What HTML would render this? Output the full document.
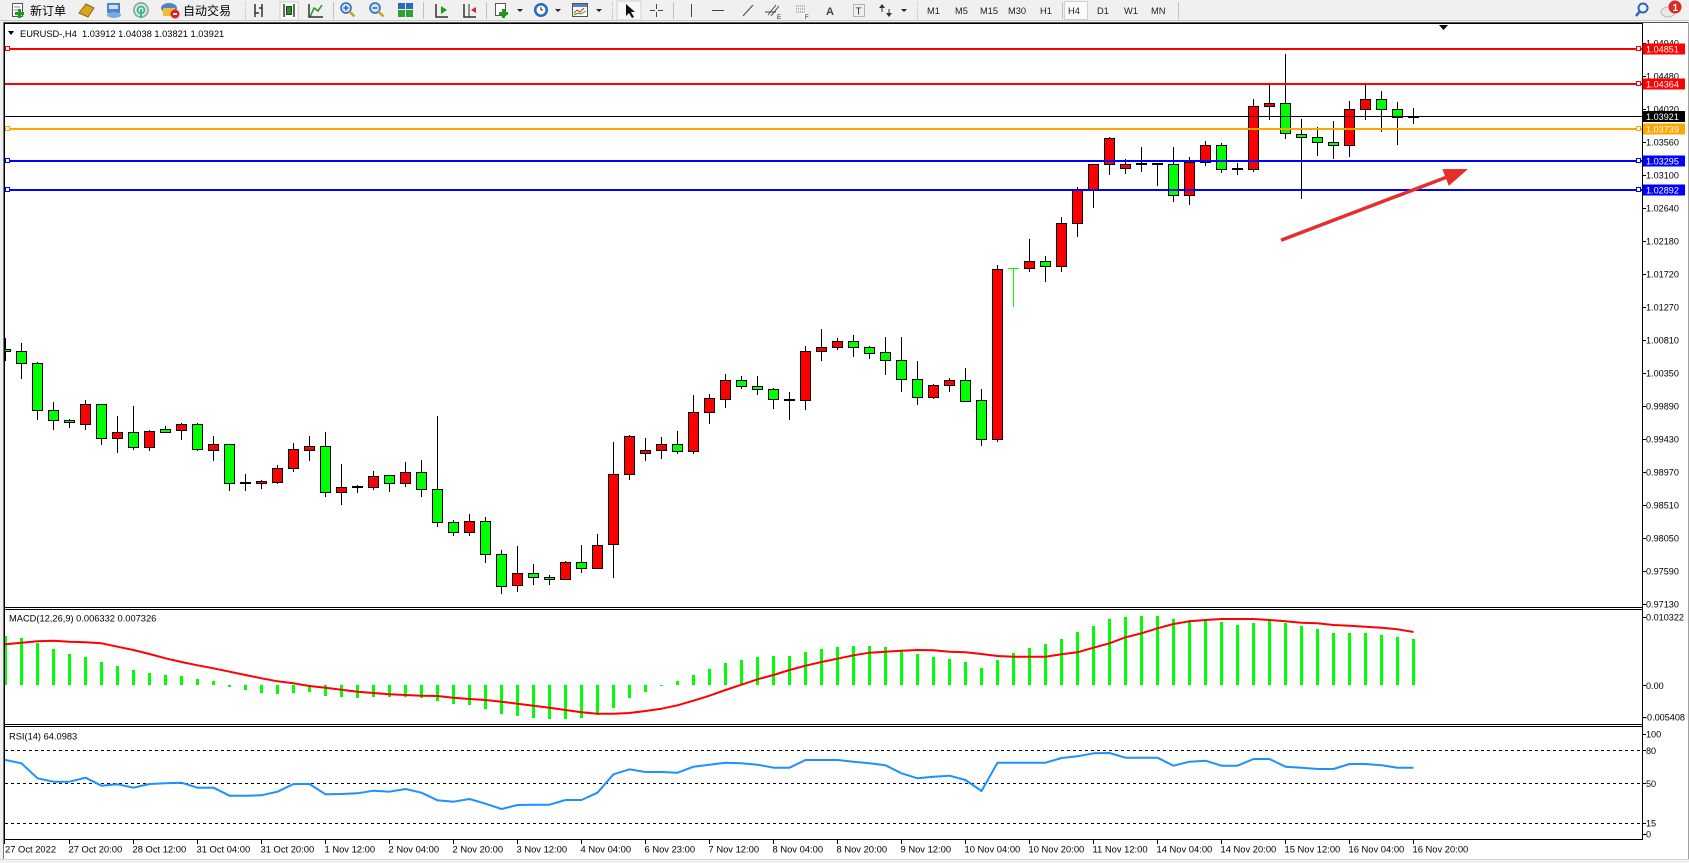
<!DOCTYPE html>
<html><head><meta charset="utf-8"><title>EURUSD H4</title>
<style>
html,body{margin:0;padding:0;background:#fff;}
body{width:1689px;height:863px;overflow:hidden;}
svg{display:block;}
text{font-family:"Liberation Sans","Noto Sans CJK SC",sans-serif;}
</style></head>
<body>
<svg width="1689" height="863" viewBox="0 0 1689 863" xmlns="http://www.w3.org/2000/svg">
<defs>
<clipPath id="cm"><rect x="5" y="24" width="1637" height="583"/></clipPath>
<clipPath id="cd"><rect x="5" y="610" width="1637" height="114"/></clipPath>
<clipPath id="cr"><rect x="5" y="727" width="1637" height="112"/></clipPath>
</defs>
<!-- window background -->
<rect x="0" y="0" width="1689" height="863" fill="#f0f0f0"/>
<rect x="3" y="22" width="1685" height="838" fill="#fff"/>
<!-- toolbar -->
<rect x="0" y="0" width="1689" height="21" fill="#f0f0f0"/>
<line x1="0" y1="20.5" x2="1689" y2="20.5" stroke="#c8c8c8"/>
<g font-size="12" fill="#000">
<text x="30" y="15" font-family="'Liberation Sans','Noto Sans CJK SC',sans-serif">新订单</text>
<text x="183" y="15" font-family="'Liberation Sans','Noto Sans CJK SC',sans-serif">自动交易</text>
</g>
<!-- toolbar icons -->
<g>
<rect x="12.5" y="3.5" width="10" height="13" fill="#fff" stroke="#555"/>
<line x1="14" y1="7" x2="20" y2="7" stroke="#888"/><line x1="14" y1="10" x2="20" y2="10" stroke="#888"/>
<rect x="15" y="12" width="9" height="3" fill="#1a9e1a"/><rect x="18" y="9" width="3" height="9" fill="#1a9e1a"/>
<polygon points="79,13 86,4 94,8 88,17" fill="#d9a520" stroke="#8a6212"/>
<rect x="107" y="3" width="13" height="10" fill="#4a86c8"/><rect x="109" y="5" width="9" height="4" fill="#cfe3f7"/><ellipse cx="114" cy="15" rx="7" ry="3" fill="#7aa9dd"/>
<circle cx="141" cy="10" r="7" fill="none" stroke="#9aa" stroke-width="2"/><circle cx="141" cy="10" r="3.5" fill="none" stroke="#3b8" stroke-width="2"/><rect x="140" y="9" width="2" height="9" fill="#3b8"/>
<ellipse cx="169" cy="8" rx="8" ry="5" fill="#4a86c8"/><rect x="163" y="8" width="12" height="8" fill="#f0c030"/><circle cx="175" cy="14" r="4.5" fill="#e02020"/><rect x="173" y="13" width="4" height="2" fill="#fff"/>
</g>
<g stroke="#b8b8b8" stroke-dasharray="1,1"><line x1="245.5" y1="2" x2="245.5" y2="19"/><line x1="612.5" y1="2" x2="612.5" y2="19"/><line x1="917.5" y1="2" x2="917.5" y2="19"/></g>
<g stroke="#c0c0c0"><line x1="333.5" y1="2" x2="333.5" y2="19"/><line x1="423.5" y1="2" x2="423.5" y2="19"/><line x1="486.5" y1="2" x2="486.5" y2="19"/><line x1="673.5" y1="2" x2="673.5" y2="19"/><line x1="1062.5" y1="2" x2="1062.5" y2="19"/><line x1="1178.5" y1="2" x2="1178.5" y2="19"/></g>
<g stroke-width="1.5" fill="none">
<path d="M255 4V17M255 13h4M259 8h3M262 4V17" stroke="#333"/>
<rect x="280" y="2" width="18" height="18" fill="#fff" stroke="#ccc" stroke-width="1"/>
<path d="M284 4V17M294 4V17" stroke="#333"/><rect x="286.5" y="6.5" width="5" height="8" fill="#1a9e1a" stroke="#333" stroke-width="1"/>
<path d="M310 17l4-9 4 3 4-6" stroke="#1a9e1a"/><path d="M309 4V17h14" stroke="#333"/>
</g>
<g>
<circle cx="346" cy="8" r="5" fill="#cfe3f7" stroke="#2a6ab8" stroke-width="1.5"/><path d="M349.5 11.5l5 5" stroke="#c8a020" stroke-width="2.5"/><path d="M343.5 8h5M346 5.5v5" stroke="#2a6ab8" stroke-width="1.5"/>
<circle cx="375" cy="8" r="5" fill="#cfe3f7" stroke="#2a6ab8" stroke-width="1.5"/><path d="M378.5 11.5l5 5" stroke="#c8a020" stroke-width="2.5"/><path d="M372.5 8h5" stroke="#2a6ab8" stroke-width="1.5"/>
<rect x="398" y="3" width="7" height="6" fill="#2a6ab8"/><rect x="406" y="3" width="7" height="6" fill="#2a6ab8"/><rect x="398" y="10" width="7" height="7" fill="#30a030"/><rect x="406" y="10" width="7" height="7" fill="#30a030"/>
<path d="M436 4V17h12" stroke="#333" stroke-width="1.5" fill="none"/><polygon points="441,6 447,10 441,14" fill="#1a9e1a"/>
<path d="M464 4V17h12" stroke="#333" stroke-width="1.5" fill="none"/><path d="M469 4V17" stroke="#333"/><polygon points="476,7 471,10 476,13" fill="#e02020"/>
<rect x="495.5" y="3.5" width="10" height="12" fill="#fff" stroke="#555"/><rect x="499" y="12" width="9" height="3" fill="#1a9e1a"/><rect x="502" y="9" width="3" height="9" fill="#1a9e1a"/>
<polygon points="517,9 523,9 520,12" fill="#222"/>
<circle cx="541" cy="10" r="7" fill="#2a6ab8"/><circle cx="541" cy="10" r="4.5" fill="#fff"/><path d="M541 7v3h2" stroke="#222" fill="none"/>
<polygon points="555,9 561,9 558,12" fill="#222"/>
<rect x="572.5" y="3.5" width="15" height="13" fill="#fff" stroke="#555"/><rect x="573" y="4" width="14" height="3" fill="#4a86c8"/><path d="M574 13l3-3 3 2 4-4" stroke="#e02020" fill="none"/><path d="M574 15l4-2 3 1 5-3" stroke="#1a9e1a" fill="none"/>
<polygon points="596,9 602,9 599,12" fill="#222"/>
<rect x="617" y="1" width="24" height="19" fill="#f8f8f8" stroke="#d0d0d0"/>
<polygon points="626,4 626,16 629,13 632,18 634,17 631,12 635,12" fill="#111"/>
<path d="M656.5 4v5M656.5 12v5M650 10.5h5M658 10.5h5" stroke="#444"/>
<path d="M691.5 4v13" stroke="#444"/>
<path d="M712 10.5h12" stroke="#444"/>
<path d="M743 16l10-11" stroke="#444"/>
<path d="M768 15l8-10M771 16l8-10M765 12h11" stroke="#444"/><text x="777" y="19" font-size="6" fill="#222">E</text>
<path d="M796 6h10M796 9h10M796 12h10" stroke="#777" stroke-dasharray="1,1"/><text x="805" y="19" font-size="6" fill="#222">F</text>
<text x="826" y="15" font-size="11" font-weight="bold" fill="#444">A</text>
<rect x="853.5" y="4.5" width="11" height="12" fill="none" stroke="#777" stroke-dasharray="1,1"/><text x="855.5" y="14.5" font-size="10" fill="#333">T</text>
<path d="M882 4l-3 4h6zM889 17l-3-4h6z" fill="#333"/><path d="M882 8v4M889 9v4" stroke="#333"/>
<polygon points="901,9 907,9 904,12" fill="#222"/>
</g>
<g font-size="9.3" fill="#222">
<text x="927" y="14">M1</text><text x="955" y="14">M5</text><text x="980" y="14">M15</text><text x="1008" y="14">M30</text><text x="1040" y="14">H1</text>
<rect x="1064.5" y="1.5" width="23" height="18" fill="#fafafa" stroke="#d0d0d0"/>
<text x="1068" y="14">H4</text><text x="1097" y="14">D1</text><text x="1124" y="14">W1</text><text x="1151" y="14">MN</text>
</g>
<circle cx="1643" cy="8" r="4.5" fill="none" stroke="#2a6ab8" stroke-width="2"/><path d="M1640 11l-4 5" stroke="#2a6ab8" stroke-width="2.5"/>
<ellipse cx="1668" cy="12" rx="7" ry="5" fill="#e8e8e8" stroke="#bbb"/>
<circle cx="1675" cy="7" r="6.5" fill="#e02a20"/><text x="1672.5" y="11" font-size="10" fill="#fff" font-weight="bold">1</text>

<!-- window frame -->
<line x1="3" y1="22.5" x2="1688" y2="22.5" stroke="#555"/>
<line x1="3.5" y1="22" x2="3.5" y2="860" stroke="#777"/>
<line x1="1688.5" y1="22" x2="1688.5" y2="860" stroke="#a0a0a0"/>
<rect x="0" y="860" width="1689" height="3" fill="#f0f0f0"/>
<line x1="0" y1="859.5" x2="1689" y2="859.5" stroke="#d8d8d8"/>

<!-- pane borders -->
<g stroke="#000" stroke-width="1" shape-rendering="crispEdges" fill="none">
<line x1="4" y1="23.5" x2="1643" y2="23.5"/>
<line x1="4" y1="607.5" x2="1643" y2="607.5"/>
<line x1="4" y1="609.5" x2="1643" y2="609.5"/>
<line x1="4" y1="724.5" x2="1643" y2="724.5"/>
<line x1="4" y1="726.5" x2="1643" y2="726.5"/>
<line x1="4" y1="839.5" x2="1643" y2="839.5"/>
<line x1="4.5" y1="23" x2="4.5" y2="840"/>
<line x1="1642.5" y1="23" x2="1642.5" y2="840"/>
</g>

<!-- main chart -->
<g clip-path="url(#cm)" shape-rendering="crispEdges">
<path stroke="#000" stroke-width="1" fill="none" d="M5.5 338V361M21.5 343V379M37.5 362V420M53.5 402V430M69.5 419V428M85.5 400V430M101.5 404V445M117.5 416V453M133.5 406V450M149.5 430V451M165.5 426V433M181.5 423V440M197.5 423V451M213.5 436V461M229.5 444V491M245.5 474V491M261.5 480V489M277.5 465V484M293.5 443V472M309.5 436V461M325.5 432V497M341.5 464V505M357.5 485V493M373.5 471V490M389.5 475V492M405.5 462V487M421.5 460V497M437.5 416V527M453.5 520V536M469.5 514V536M485.5 517V563M501.5 550V594M517.5 546V592M533.5 564V585M549.5 575V585M565.5 561V580M581.5 545V573M597.5 534V568M613.5 442V578M629.5 435V480M645.5 438V461M661.5 437V459M677.5 431V454M693.5 395V454M709.5 394V424M725.5 374V408M741.5 376V389M757.5 376V395M773.5 388V409M789.5 392V420M805.5 346V410M821.5 329V361M837.5 338V350M853.5 335V357M869.5 346V359M885.5 337V375M901.5 337V392M917.5 361V405M933.5 384V399M949.5 378V392M965.5 368V401M981.5 389V446M997.5 265V442M1029.5 239V272M1045.5 256V282M1061.5 217V272M1077.5 187V237M1093.5 164V208M1109.5 137V175M1125.5 159V174M1141.5 147V172M1157.5 164V186M1173.5 147V202M1189.5 157V205M1205.5 141V166M1221.5 143V173M1237.5 163V175M1253.5 99V172M1269.5 84V120M1285.5 54V139M1301.5 119V199M1317.5 127V156M1333.5 121V159M1349.5 101V157M1365.5 84V120M1381.5 91V132M1397.5 102V145M1413.5 108V124"/>
<path stroke="#000" stroke-width="2" fill="none" d="M240 483h11M352 487h11M784 400h11M1136 164h11M1152 164h11M1232 169h11M1408 117h11"/>
<path stroke="#00ff00" stroke-width="1" fill="none" d="M1008 268.5h11M1013.5 268V307"/>
<g fill="#00ff00" stroke="#000" stroke-width="1">
<rect x="0.5" y="349.5" width="10" height="2"/>
<rect x="16.5" y="351.5" width="10" height="12"/>
<rect x="32.5" y="363.5" width="10" height="47"/>
<rect x="48.5" y="410.5" width="10" height="10"/>
<rect x="64.5" y="420.5" width="10" height="2"/>
<rect x="96.5" y="404.5" width="10" height="34"/>
<rect x="128.5" y="432.5" width="10" height="15"/>
<rect x="160.5" y="429.5" width="10" height="3"/>
<rect x="192.5" y="424.5" width="10" height="25"/>
<rect x="224.5" y="444.5" width="10" height="39"/>
<rect x="320.5" y="446.5" width="10" height="46"/>
<rect x="384.5" y="475.5" width="10" height="8"/>
<rect x="416.5" y="472.5" width="10" height="17"/>
<rect x="432.5" y="489.5" width="10" height="33"/>
<rect x="448.5" y="522.5" width="10" height="10"/>
<rect x="480.5" y="521.5" width="10" height="33"/>
<rect x="496.5" y="554.5" width="10" height="32"/>
<rect x="528.5" y="573.5" width="10" height="4"/>
<rect x="544.5" y="577.5" width="10" height="2"/>
<rect x="576.5" y="562.5" width="10" height="6"/>
<rect x="672.5" y="444.5" width="10" height="7"/>
<rect x="736.5" y="380.5" width="10" height="6"/>
<rect x="752.5" y="386.5" width="10" height="3"/>
<rect x="768.5" y="389.5" width="10" height="10"/>
<rect x="848.5" y="341.5" width="10" height="6"/>
<rect x="864.5" y="347.5" width="10" height="6"/>
<rect x="880.5" y="352.5" width="10" height="8"/>
<rect x="896.5" y="360.5" width="10" height="19"/>
<rect x="912.5" y="379.5" width="10" height="18"/>
<rect x="960.5" y="380.5" width="10" height="21"/>
<rect x="976.5" y="400.5" width="10" height="39"/>
<rect x="1040.5" y="261.5" width="10" height="5"/>
<rect x="1168.5" y="164.5" width="10" height="31"/>
<rect x="1216.5" y="145.5" width="10" height="24"/>
<rect x="1280.5" y="103.5" width="10" height="30"/>
<rect x="1296.5" y="134.5" width="10" height="3"/>
<rect x="1312.5" y="137.5" width="10" height="5"/>
<rect x="1328.5" y="142.5" width="10" height="3"/>
<rect x="1376.5" y="99.5" width="10" height="10"/>
<rect x="1392.5" y="109.5" width="10" height="8"/>
</g>
<g fill="#ff0000" stroke="#000" stroke-width="1">
<rect x="80.5" y="404.5" width="10" height="20"/>
<rect x="112.5" y="432.5" width="10" height="6"/>
<rect x="144.5" y="431.5" width="10" height="16"/>
<rect x="176.5" y="424.5" width="10" height="6"/>
<rect x="208.5" y="444.5" width="10" height="6"/>
<rect x="256.5" y="481.5" width="10" height="2"/>
<rect x="272.5" y="468.5" width="10" height="14"/>
<rect x="288.5" y="449.5" width="10" height="19"/>
<rect x="304.5" y="446.5" width="10" height="4"/>
<rect x="336.5" y="487.5" width="10" height="5"/>
<rect x="368.5" y="476.5" width="10" height="11"/>
<rect x="400.5" y="472.5" width="10" height="11"/>
<rect x="464.5" y="521.5" width="10" height="11"/>
<rect x="512.5" y="573.5" width="10" height="12"/>
<rect x="560.5" y="562.5" width="10" height="17"/>
<rect x="592.5" y="545.5" width="10" height="23"/>
<rect x="608.5" y="474.5" width="10" height="70"/>
<rect x="624.5" y="436.5" width="10" height="38"/>
<rect x="640.5" y="450.5" width="10" height="3"/>
<rect x="656.5" y="444.5" width="10" height="6"/>
<rect x="688.5" y="412.5" width="10" height="39"/>
<rect x="704.5" y="398.5" width="10" height="14"/>
<rect x="720.5" y="380.5" width="10" height="19"/>
<rect x="800.5" y="351.5" width="10" height="49"/>
<rect x="816.5" y="347.5" width="10" height="4"/>
<rect x="832.5" y="341.5" width="10" height="6"/>
<rect x="928.5" y="385.5" width="10" height="12"/>
<rect x="944.5" y="380.5" width="10" height="5"/>
<rect x="992.5" y="269.5" width="10" height="170"/>
<rect x="1024.5" y="261.5" width="10" height="7"/>
<rect x="1056.5" y="223.5" width="10" height="43"/>
<rect x="1072.5" y="190.5" width="10" height="33"/>
<rect x="1088.5" y="164.5" width="10" height="26"/>
<rect x="1104.5" y="138.5" width="10" height="26"/>
<rect x="1120.5" y="164.5" width="10" height="4"/>
<rect x="1184.5" y="162.5" width="10" height="33"/>
<rect x="1200.5" y="145.5" width="10" height="17"/>
<rect x="1248.5" y="106.5" width="10" height="63"/>
<rect x="1264.5" y="103.5" width="10" height="3"/>
<rect x="1344.5" y="109.5" width="10" height="36"/>
<rect x="1360.5" y="99.5" width="10" height="10"/>
</g>
<!-- horizontal objects -->
<rect x="5" y="48" width="1637" height="2" fill="#ff0000"/>
<rect x="5" y="83" width="1637" height="2" fill="#ff0000"/>
<rect x="5" y="116" width="1637" height="1" fill="#000"/>
<rect x="5" y="128" width="1637" height="2" fill="#ffa500"/>
<rect x="5" y="160" width="1637" height="2" fill="#0000ff"/>
<rect x="5" y="189" width="1637" height="2" fill="#0000ff"/>
<g fill="#fff" stroke-width="1.2">
<rect x="5.5" y="46.5" width="4" height="4" stroke="#ff0000"/><rect x="1636.5" y="46.5" width="4" height="4" stroke="#ff0000"/>
<rect x="1636.5" y="81.5" width="4" height="4" stroke="#ff0000"/>
<rect x="5.5" y="126.5" width="4" height="4" stroke="#ffa500"/><rect x="1636.5" y="126.5" width="4" height="4" stroke="#ffa500"/>
<rect x="5.5" y="158.5" width="4" height="4" stroke="#0000ff"/><rect x="1636.5" y="158.5" width="4" height="4" stroke="#0000ff"/>
<rect x="5.5" y="187.5" width="4" height="4" stroke="#0000ff"/><rect x="1636.5" y="187.5" width="4" height="4" stroke="#0000ff"/>
</g>
</g>
<!-- arrow -->
<g shape-rendering="geometricPrecision">
<line x1="1281" y1="240.3" x2="1447" y2="177" stroke="#e62e2e" stroke-width="3.5"/>
<polygon points="1468,169 1448.8,185.9 1442.4,169.1" fill="#e62e2e"/>
</g>
<polygon points="1439,25 1448,25 1443.5,30" fill="#000"/>
<!-- header text -->
<polygon points="8,31 14,31 11,35" fill="#000"/>
<text x="20" y="37" font-size="9.3" fill="#000" xml:space="preserve">EURUSD-,H4  1.03912 1.04038 1.03821 1.03921</text>

<!-- price axis -->
<g font-size="9.1" fill="#000">
<text x="1646" y="607.3">0.97130</text>
<text x="1646" y="574.3">0.97590</text>
<text x="1646" y="541.3">0.98050</text>
<text x="1646" y="508.3">0.98510</text>
<text x="1646" y="475.3">0.98970</text>
<text x="1646" y="442.3">0.99430</text>
<text x="1646" y="409.3">0.99890</text>
<text x="1646" y="376.3">1.00350</text>
<text x="1646" y="343.3">1.00810</text>
<text x="1646" y="310.3">1.01270</text>
<text x="1646" y="277.3">1.01720</text>
<text x="1646" y="244.3">1.02180</text>
<text x="1646" y="211.3">1.02640</text>
<text x="1646" y="178.3">1.03100</text>
<text x="1646" y="145.3">1.03560</text>
<text x="1646" y="112.3">1.04020</text>
<text x="1646" y="79.3">1.04480</text>
<text x="1646" y="46.3">1.04940</text>
</g>
<path stroke="#000" shape-rendering="crispEdges" d="M1643 604.5h3M1643 571.5h3M1643 538.5h3M1643 505.5h3M1643 472.5h3M1643 439.5h3M1643 406.5h3M1643 373.5h3M1643 340.5h3M1643 307.5h3M1643 274.5h3M1643 241.5h3M1643 208.5h3M1643 175.5h3M1643 142.5h3M1643 109.5h3M1643 76.5h3M1643 43.5h3M1643 617.5h3M1643 685.5h3M1643 717.5h3M1643 734.5h3M1643 750.5h3M1643 783.5h3M1643 823.5h3M1643 834.5h3"/>
<g font-size="9.1" fill="#fff" shape-rendering="crispEdges">
<rect x="1643" y="43.5" width="42" height="11" fill="#ff0000"/><text x="1646" y="52.5">1.04851</text>
<rect x="1643" y="78.5" width="42" height="11" fill="#ff0000"/><text x="1646" y="87.3">1.04364</text>
<rect x="1643" y="111" width="42" height="11" fill="#000"/><text x="1646" y="120">1.03921</text>
<rect x="1643" y="123.5" width="42" height="11" fill="#ffa500"/><text x="1646" y="132.3">1.03739</text>
<rect x="1643" y="155.5" width="42" height="11" fill="#0000ff"/><text x="1646" y="164.3">1.03295</text>
<rect x="1643" y="184.5" width="42" height="11" fill="#0000ff"/><text x="1646" y="193.3">1.02892</text>
</g>

<!-- MACD -->
<g clip-path="url(#cd)">
<g fill="#00ff00" shape-rendering="crispEdges">
<rect x="4" y="636" width="3" height="49"/><rect x="20" y="638" width="3" height="47"/><rect x="36" y="643" width="3" height="42"/><rect x="52" y="649" width="3" height="36"/><rect x="68" y="654" width="3" height="31"/><rect x="84" y="657" width="3" height="28"/><rect x="100" y="662" width="3" height="23"/><rect x="116" y="666" width="3" height="19"/><rect x="132" y="670" width="3" height="15"/><rect x="148" y="673" width="3" height="12"/><rect x="164" y="675" width="3" height="10"/><rect x="180" y="676" width="3" height="9"/><rect x="196" y="679" width="3" height="6"/><rect x="212" y="681" width="3" height="4"/>
<rect x="228" y="685" width="3" height="2"/><rect x="244" y="685" width="3" height="5"/><rect x="260" y="685" width="3" height="8"/><rect x="276" y="685" width="3" height="9"/><rect x="292" y="685" width="3" height="8"/><rect x="308" y="685" width="3" height="7"/><rect x="324" y="685" width="3" height="11"/><rect x="340" y="685" width="3" height="12"/><rect x="356" y="685" width="3" height="13"/><rect x="372" y="685" width="3" height="12"/><rect x="388" y="685" width="3" height="12"/><rect x="404" y="685" width="3" height="12"/><rect x="420" y="685" width="3" height="13"/><rect x="436" y="685" width="3" height="16"/><rect x="452" y="685" width="3" height="19"/><rect x="468" y="685" width="3" height="20"/><rect x="484" y="685" width="3" height="24"/><rect x="500" y="685" width="3" height="29"/><rect x="516" y="685" width="3" height="31"/><rect x="532" y="685" width="3" height="33"/><rect x="548" y="685" width="3" height="34"/><rect x="564" y="685" width="3" height="34"/><rect x="580" y="685" width="3" height="33"/><rect x="596" y="685" width="3" height="30"/><rect x="612" y="685" width="3" height="23"/><rect x="628" y="685" width="3" height="13"/><rect x="644" y="685" width="3" height="7"/><rect x="660" y="685" width="3" height="1"/>
<rect x="676" y="681" width="3" height="4"/><rect x="692" y="675" width="3" height="10"/><rect x="708" y="669" width="3" height="16"/><rect x="724" y="663" width="3" height="22"/><rect x="740" y="660" width="3" height="25"/><rect x="756" y="657" width="3" height="28"/><rect x="772" y="656" width="3" height="29"/><rect x="788" y="656" width="3" height="29"/><rect x="804" y="652" width="3" height="33"/><rect x="820" y="649" width="3" height="36"/><rect x="836" y="647" width="3" height="38"/><rect x="852" y="646" width="3" height="39"/><rect x="868" y="646" width="3" height="39"/><rect x="884" y="647" width="3" height="38"/><rect x="900" y="651" width="3" height="34"/><rect x="916" y="654" width="3" height="31"/><rect x="932" y="657" width="3" height="28"/><rect x="948" y="659" width="3" height="26"/><rect x="964" y="662" width="3" height="23"/><rect x="980" y="668" width="3" height="17"/><rect x="996" y="660" width="3" height="25"/><rect x="1012" y="653" width="3" height="32"/><rect x="1028" y="648" width="3" height="37"/><rect x="1044" y="644" width="3" height="41"/><rect x="1060" y="639" width="3" height="46"/><rect x="1076" y="632" width="3" height="53"/><rect x="1092" y="626" width="3" height="59"/><rect x="1108" y="619" width="3" height="66"/><rect x="1124" y="617" width="3" height="68"/><rect x="1140" y="616" width="3" height="69"/><rect x="1156" y="616" width="3" height="69"/><rect x="1172" y="619" width="3" height="66"/><rect x="1188" y="620" width="3" height="65"/><rect x="1204" y="621" width="3" height="64"/><rect x="1220" y="622" width="3" height="63"/><rect x="1236" y="625" width="3" height="60"/><rect x="1252" y="623" width="3" height="62"/><rect x="1268" y="621" width="3" height="64"/><rect x="1284" y="623" width="3" height="62"/><rect x="1300" y="626" width="3" height="59"/><rect x="1316" y="629" width="3" height="56"/><rect x="1332" y="633" width="3" height="52"/><rect x="1348" y="633" width="3" height="52"/><rect x="1364" y="633" width="3" height="52"/><rect x="1380" y="635" width="3" height="50"/><rect x="1396" y="637" width="3" height="48"/><rect x="1412" y="639" width="3" height="46"/>
</g>
<polyline fill="none" stroke="#ff0000" stroke-width="2" stroke-linejoin="round" points="4,644.5 5.5,644.3 21.5,642.7 37.5,641.3 53.5,640.7 69.5,641.7 85.5,642.3 101.5,643.3 117.5,646.7 133.5,650 149.5,654 165.5,658.3 181.5,662 197.5,665.3 213.5,668.3 229.5,671.7 245.5,675 261.5,678.3 277.5,681.3 293.5,683.3 309.5,686 325.5,687.7 341.5,689.7 357.5,691.7 373.5,693 389.5,694.3 405.5,695 421.5,695.7 437.5,696 453.5,697.7 469.5,699 485.5,700 501.5,701.7 517.5,703.7 533.5,705.7 549.5,707.7 565.5,710 581.5,712.3 597.5,713.7 613.5,713.7 629.5,713 645.5,711 661.5,708.7 677.5,705.3 693.5,700.7 709.5,695.7 725.5,690 741.5,684.7 757.5,679.3 773.5,675 789.5,670 805.5,665.7 821.5,662 837.5,658.7 853.5,655.3 869.5,652.7 885.5,651.7 901.5,650.7 917.5,650 933.5,650.3 949.5,651.7 965.5,652.3 981.5,654 997.5,656 1013.5,656.7 1029.5,656.7 1045.5,656.7 1061.5,654.3 1077.5,652.3 1093.5,647.7 1109.5,643.3 1125.5,637.3 1141.5,633.3 1157.5,628.3 1173.5,624 1189.5,621.3 1205.5,620 1221.5,619 1237.5,619 1253.5,619 1269.5,620 1285.5,621.3 1301.5,622.7 1317.5,623.3 1333.5,625 1349.5,625.7 1365.5,626.7 1381.5,627.7 1397.5,629.3 1413.5,632"/>
</g>
<text x="9" y="621.5" font-size="9.3" fill="#000">MACD(12,26,9) 0.006332 0.007326</text>
<g font-size="9.1" fill="#000">
<text x="1646" y="620.5">0.010322</text>
<text x="1646" y="689">0.00</text>
<text x="1644" y="720.5">-0.005408</text>
</g>

<!-- RSI -->
<g stroke="#000" stroke-dasharray="3,3" shape-rendering="crispEdges">
<line x1="5" y1="750.5" x2="1642" y2="750.5"/>
<line x1="5" y1="783.5" x2="1642" y2="783.5"/>
<line x1="5" y1="823.5" x2="1642" y2="823.5"/>
</g>
<g clip-path="url(#cr)">
<polyline fill="none" stroke="#1e90ff" stroke-width="2" stroke-linejoin="round" points="4,760 5.5,760 21.5,763.3 37.5,778.3 53.5,781.7 69.5,781.7 85.5,777.7 101.5,785.7 117.5,784.3 133.5,787.7 149.5,784 165.5,783.3 181.5,782.7 197.5,787.7 213.5,787.7 229.5,795.7 245.5,795.7 261.5,795.3 277.5,791.7 293.5,784 309.5,784 325.5,794.3 341.5,794 357.5,793.3 373.5,790.7 389.5,791.7 405.5,789 421.5,792.7 437.5,800.3 453.5,801.7 469.5,799 485.5,803.7 501.5,809 517.5,805 533.5,804.7 549.5,804.7 565.5,800 581.5,800 597.5,792.7 613.5,774.3 629.5,769.3 645.5,772 661.5,772 677.5,772.7 693.5,766.7 709.5,764.7 725.5,762.7 741.5,763.3 757.5,764.7 773.5,767.7 789.5,767.7 805.5,760 821.5,760 837.5,760 853.5,761.7 869.5,763.3 885.5,765.3 901.5,773.3 917.5,778.3 933.5,776.7 949.5,775.7 965.5,780 981.5,791 997.5,762.7 1013.5,762.7 1029.5,762.7 1045.5,762.7 1061.5,758 1077.5,756.3 1093.5,753.3 1109.5,753 1125.5,757.7 1141.5,757.7 1157.5,757.7 1173.5,765.7 1189.5,761.7 1205.5,760.7 1221.5,765.7 1237.5,765.7 1253.5,759 1269.5,759 1285.5,766.7 1301.5,767.7 1317.5,769 1333.5,769 1349.5,764 1365.5,764 1381.5,765.3 1397.5,767.7 1413.5,767.7"/>
</g>
<text x="9" y="739.5" font-size="9.3" fill="#000">RSI(14) 64.0983</text>
<g font-size="9.1" fill="#000">
<text x="1646" y="737.5">100</text>
<text x="1646" y="754">80</text>
<text x="1646" y="787">50</text>
<text x="1646" y="826.5">15</text>
<text x="1646" y="837.5">0</text>
</g>

<!-- time axis -->
<path stroke="#000" shape-rendering="crispEdges" d="M4.5 840v4M69.5 840v4M133.5 840v4M197.5 840v4M261.5 840v4M325.5 840v4M389.5 840v4M453.5 840v4M517.5 840v4M581.5 840v4M645.5 840v4M709.5 840v4M773.5 840v4M837.5 840v4M901.5 840v4M965.5 840v4M1029.5 840v4M1093.5 840v4M1157.5 840v4M1221.5 840v4M1285.5 840v4M1349.5 840v4M1413.5 840v4"/>
<g font-size="9.4" fill="#000">
<text x="5" y="852.5">27 Oct 2022</text>
<text x="68.5" y="852.5">27 Oct 20:00</text>
<text x="132.5" y="852.5">28 Oct 12:00</text>
<text x="196.5" y="852.5">31 Oct 04:00</text>
<text x="260.5" y="852.5">31 Oct 20:00</text>
<text x="324.5" y="852.5">1 Nov 12:00</text>
<text x="388.5" y="852.5">2 Nov 04:00</text>
<text x="452.5" y="852.5">2 Nov 20:00</text>
<text x="516.5" y="852.5">3 Nov 12:00</text>
<text x="580.5" y="852.5">4 Nov 04:00</text>
<text x="644.5" y="852.5">6 Nov 23:00</text>
<text x="708.5" y="852.5">7 Nov 12:00</text>
<text x="772.5" y="852.5">8 Nov 04:00</text>
<text x="836.5" y="852.5">8 Nov 20:00</text>
<text x="900.5" y="852.5">9 Nov 12:00</text>
<text x="964.5" y="852.5">10 Nov 04:00</text>
<text x="1028.5" y="852.5">10 Nov 20:00</text>
<text x="1092.5" y="852.5">11 Nov 12:00</text>
<text x="1156.5" y="852.5">14 Nov 04:00</text>
<text x="1220.5" y="852.5">14 Nov 20:00</text>
<text x="1284.5" y="852.5">15 Nov 12:00</text>
<text x="1348.5" y="852.5">16 Nov 04:00</text>
<text x="1412.5" y="852.5">16 Nov 20:00</text>
</g>
</svg>
</body></html>
